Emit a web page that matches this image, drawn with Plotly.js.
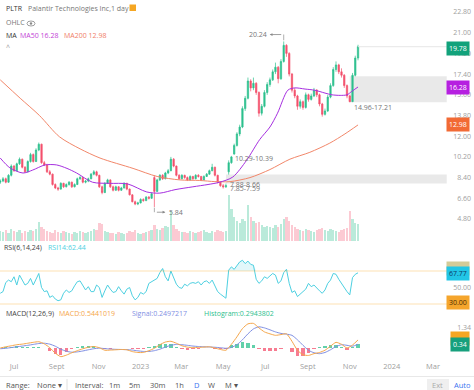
<!DOCTYPE html>
<html><head><meta charset="utf-8">
<script src="https://cdn.plot.ly/plotly-3.0.1.min.js"></script>
<style>html,body{margin:0;padding:0;background:#fff}#c{width:474px;height:390px}</style>
</head><body><div id="c"></div>
<script>
// ---------- data (one candle per ~4 calendar days) ----------
const startDate = '2022-06-11';
const stepDays = 4;
const open = [8.00,8.10,8.30,8.00,8.60,9.40,9.00,9.60,10.00,9.30,
8.90,9.80,10.40,9.80,10.80,11.30,9.70,9.50,8.90,8.70,
7.80,7.50,7.40,7.90,7.60,7.80,8.00,7.60,7.80,8.30,
8.40,8.00,8.10,8.30,8.70,8.90,8.60,7.60,7.10,7.90,
8.20,7.60,7.30,7.60,7.30,7.50,7.90,7.40,6.90,6.30,
6.10,6.20,6.50,6.40,6.70,6.60,8.40,7.20,8.20,8.60,
8.30,8.80,9.00,10.00,9.40,8.60,8.30,8.60,8.40,8.20,
8.50,8.30,8.60,8.50,8.20,8.50,8.70,9.00,9.30,8.60,
8.00,7.70,7.60,8.90,9.70,10.45,11.20,12.20,12.80,14.40,
15.30,16.80,16.20,16.60,15.80,14.00,14.60,15.80,16.50,16.90,
17.60,18.00,17.00,18.50,19.90,19.20,17.40,16.00,15.50,14.60,
15.00,14.50,15.60,15.20,15.50,16.00,15.60,14.80,13.90,14.20,
15.40,16.40,17.80,18.20,17.60,17.30,16.40,15.50,15.00,17.30,18.80];
const high = [8.25,8.45,8.40,8.70,9.55,9.50,9.70,10.15,10.05,9.40,
9.90,10.55,10.50,10.95,11.45,11.35,9.85,9.60,9.05,8.75,
7.90,7.60,8.00,7.95,7.90,8.10,8.05,7.90,8.40,8.55,
8.45,8.20,8.40,8.80,9.05,9.00,8.65,7.70,8.00,8.30,
8.25,7.70,7.70,7.65,7.60,8.00,7.95,7.45,6.95,6.40,
6.30,6.60,6.60,6.80,6.80,7.10,8.60,8.30,8.70,8.70,
8.90,9.15,10.20,10.10,9.45,8.70,8.70,8.65,8.50,8.60,
8.55,8.70,8.70,8.55,8.60,8.80,9.10,9.60,9.35,8.65,
8.05,7.85,7.88,9.90,10.29,11.35,12.35,13.00,14.60,15.50,
17.10,16.95,17.10,16.70,15.90,14.80,16.00,16.70,17.10,17.80,
18.40,18.10,18.70,20.24,20.00,19.30,17.50,16.20,15.60,15.20,
15.10,15.80,15.70,15.70,16.20,16.10,15.70,14.90,14.40,15.60,
16.60,18.00,18.50,18.30,17.90,17.40,16.50,15.60,17.50,19.00,19.95];
const low = [7.85,8.00,7.90,7.95,8.50,8.90,8.95,9.50,9.20,8.80,
8.85,9.70,9.70,9.75,10.70,9.60,9.40,8.80,8.60,7.70,
7.40,7.25,7.35,7.50,7.55,7.70,7.50,7.55,7.75,8.20,
7.90,7.90,8.00,8.25,8.60,8.50,7.50,6.95,7.05,7.85,
7.50,7.20,7.25,7.20,7.25,7.45,7.30,6.85,6.25,6.00,
6.00,6.15,6.30,6.35,6.50,6.55,5.84,7.15,8.10,8.20,
8.25,8.70,8.95,9.30,8.50,8.20,8.25,8.30,8.10,8.15,
8.20,8.25,8.40,8.10,8.15,8.45,8.65,8.95,8.50,7.90,
7.60,7.45,7.50,8.66,9.60,10.39,11.10,12.00,12.70,14.20,
15.20,15.90,16.00,15.60,13.70,13.80,14.50,15.60,16.30,16.80,
17.40,16.60,16.90,18.40,18.90,17.20,15.80,15.30,14.30,14.40,
14.30,14.40,15.00,15.10,15.40,15.40,14.60,13.70,13.80,14.10,
15.30,16.30,17.60,17.40,17.10,16.20,15.30,14.96,15.00,17.20,18.60];
const close = [8.10,8.30,8.00,8.60,9.40,9.00,9.60,10.00,9.30,8.90,
9.80,10.40,9.80,10.80,11.30,9.70,9.50,8.90,8.70,7.80,
7.50,7.40,7.90,7.60,7.80,8.00,7.60,7.80,8.30,8.40,
8.00,8.10,8.30,8.70,8.90,8.60,7.60,7.10,7.90,8.20,
7.60,7.30,7.60,7.30,7.50,7.90,7.40,6.90,6.30,6.10,
6.20,6.50,6.40,6.70,6.60,7.00,7.20,8.20,8.60,8.30,
8.80,9.00,10.00,9.40,8.60,8.30,8.60,8.40,8.20,8.50,
8.30,8.60,8.50,8.20,8.50,8.70,9.00,9.30,8.60,8.00,
7.70,7.60,7.70,9.70,10.20,11.20,12.20,12.80,14.40,15.30,
16.80,16.20,16.60,15.80,14.00,14.60,15.80,16.50,16.90,17.60,
18.00,17.00,18.50,19.90,19.20,17.40,16.00,15.50,14.60,15.00,
14.50,15.60,15.20,15.50,16.00,15.60,14.80,13.90,14.20,15.40,
16.40,17.80,18.20,17.60,17.30,16.40,15.50,15.00,17.30,18.80,19.78];
const volume = [50,45,55,40,60,50,45,55,40,50,
45,55,50,60,95,70,60,50,45,40,
55,45,40,50,45,40,35,45,40,50,
45,40,45,50,60,55,90,85,50,45,
40,40,35,45,40,35,40,50,45,55,
40,35,40,45,50,55,80,60,55,65,
75,70,150,80,60,50,45,45,40,50,
45,40,45,50,55,45,40,50,45,55,
50,45,50,230,160,120,100,90,110,100,
180,120,100,90,95,80,70,75,70,65,
80,70,85,110,120,100,80,70,60,55,
50,60,55,50,45,55,60,65,55,50,
60,55,50,45,55,60,65,150,110,90,85];
const ma50Dates = ['2022-06-11','2022-06-25','2022-07-14','2022-07-28','2022-08-15','2022-09-01','2022-09-16','2022-09-30','2022-10-23','2022-11-17','2022-12-13','2023-01-10','2023-01-29','2023-02-20','2023-03-18','2023-04-09','2023-04-26','2023-05-15','2023-06-04','2023-06-23','2023-07-08','2023-07-19','2023-08-03','2023-08-13','2023-08-28','2023-09-11','2023-09-26','2023-10-06','2023-10-18','2023-10-28','2023-11-04','2023-11-13'];
const ma50 = [10.10,9.25,8.80,9.05,9.50,9.50,9.20,8.80,8.00,7.90,7.85,7.15,7.05,7.35,7.60,7.80,8.00,8.45,9.90,11.70,12.80,14.00,16.00,16.20,16.10,16.00,15.75,15.60,15.55,15.60,15.90,16.28];
const ma200Dates = ['2022-06-11','2022-07-10','2022-08-07','2022-09-05','2022-10-05','2022-11-03','2022-12-21','2023-01-25','2023-02-27','2023-03-28','2023-04-19','2023-05-11','2023-06-09','2023-07-08','2023-08-06','2023-09-04','2023-10-03','2023-10-25','2023-11-13'];
const ma200 = [16.90,15.30,13.80,11.95,10.90,10.10,9.20,8.50,8.20,8.15,8.05,8.05,8.40,9.10,10.00,10.60,11.40,12.20,12.98];
const rsi = [43,45,56,59,57,63,53,65,59,53,55,61,53,60,67,50,45,46,38,40,
36,34,35,43,47,44,46,52,57,58,52,47,51,45,45,53,50,38,46,53,
48,44,45,51,46,42,48,50,40,35,38,44,42,45,55,57,58,61,68,73,
63,58,70,62,54,50,49,54,52,55,56,55,57,53,57,58,55,59,52,45,
42,39,37,71,75,72,76,81,83,79,82,78,77,60,55,58,63,61,64,67,
65,55,58,68,72,55,44,46,39,42,45,48,55,51,53,49,46,43,47,55,
59,67,66,60,55,49,45,41,62,66,67.77];
// MACD panel: one value every 2nd candle
const macd = [0.00,0.08,0.15,0.22,0.26,0.32,0.38,0.42,0.28,0.02,-0.35,-0.58,-0.48,-0.32,-0.18,-0.05,0.05,0.10,0.02,-0.15,-0.14,-0.12,-0.10,-0.12,-0.24,-0.30,-0.30,-0.18,-0.02,0.22,0.40,0.45,0.32,0.15,0.06,0.02,0.04,0.06,0.08,0.00,-0.10,-0.15,0.25,0.75,1.30,1.62,1.65,1.35,1.08,0.95,0.85,0.90,0.95,0.45,-0.15,-0.45,-0.50,-0.38,-0.30,-0.15,0.12,0.38,0.25,0.00,0.20,0.54];
const signal = [-0.05,-0.02,0.03,0.08,0.13,0.18,0.24,0.30,0.32,0.26,0.12,-0.08,-0.22,-0.28,-0.26,-0.20,-0.12,-0.05,-0.01,-0.04,-0.07,-0.09,-0.10,-0.11,-0.14,-0.19,-0.23,-0.23,-0.18,-0.08,0.06,0.18,0.24,0.22,0.18,0.13,0.10,0.08,0.07,0.05,0.02,-0.02,0.04,0.22,0.55,0.95,1.28,1.42,1.35,1.22,1.08,0.98,0.93,0.85,0.55,0.18,-0.15,-0.32,-0.38,-0.30,-0.12,0.10,0.22,0.18,0.12,0.25];
const hist = [0.03,0.08,0.10,0.12,0.10,0.10,0.10,0.09,-0.03,-0.20,-0.40,-0.45,-0.25,-0.05,0.06,0.12,0.14,0.12,0.03,-0.10,-0.06,-0.03,0.00,-0.02,-0.08,-0.10,-0.06,0.04,0.14,0.25,0.30,0.26,0.06,-0.08,-0.12,-0.10,-0.06,-0.02,0.01,-0.04,-0.10,-0.10,0.18,0.30,0.38,0.36,0.20,-0.06,-0.20,-0.22,-0.18,-0.06,0.02,-0.30,-0.55,-0.55,-0.35,-0.06,0.06,0.12,0.20,0.22,0.04,-0.15,0.06,0.29];
const priceTicks = [4.8,6.6,8.4,10.2,12.0,13.8,15.6,17.4,19.2,21.0,22.8];
const monthTicks = ['2022-07-01','2022-09-01','2022-11-01','2023-01-01','2023-03-01','2023-05-01','2023-07-01','2023-09-01','2023-11-01','2024-01-01','2024-03-01'];
const monthLabels = ['Jul','Sept','Nov','2023','Mar','May','Jul','Sept','Nov','2024','Mar'];
const lastPrice = 19.78, lastMA50 = 16.28, lastMA200 = 12.98;
const gapBoxes = [{lo:14.96, hi:17.21, at:127}, {lo:7.88, hi:8.66, at:82}];
const rsiUpper = 70, rsiLower = 30;

// ---------- build ----------
const DAY = 86400000;
const t0 = Date.parse(startDate + 'T00:00:00Z');
const dates = close.map((_, i) => new Date(t0 + i * stepDays * DAY).toISOString().slice(0, 10));
const mDates = macd.map((_, j) => dates[2 * j]);
const UP = '#2DC08E', DN = '#F4506C';
const W = 474, H = 390;
const px = x => x / W, py = y => 1 - y / H;
const FONT = 'Open Sans, Noto Sans, sans-serif';

const traces = [
  {type: 'bar', x: dates, y: volume, xaxis: 'x', yaxis: 'y2', width: stepDays * DAY * 0.85,
   marker: {color: close.map((c, i) => c >= open[i] ? 'rgba(45,192,142,0.33)' : 'rgba(244,80,108,0.30)'), line: {width: 0}},
   hoverinfo: 'skip'},
  {type: 'candlestick', x: dates, open: open, high: high, low: low, close: close, xaxis: 'x', yaxis: 'y',
   increasing: {line: {color: UP, width: 0.7}, fillcolor: UP},
   decreasing: {line: {color: DN, width: 0.7}, fillcolor: DN}, whiskerwidth: 0, hoverinfo: 'skip'},
  {type: 'scatter', mode: 'lines', x: ma200Dates, y: ma200, xaxis: 'x', yaxis: 'y',
   line: {color: '#F2876A', width: 1, shape: 'spline', smoothing: 0.8}, hoverinfo: 'skip'},
  {type: 'scatter', mode: 'lines', x: ma50Dates, y: ma50, xaxis: 'x', yaxis: 'y',
   line: {color: '#A62FE0', width: 1, shape: 'spline', smoothing: 0.8}, hoverinfo: 'skip'},
  // light fill where RSI is above the upper level
  {type: 'scatter', mode: 'lines', x: dates, y: rsi.map(() => rsiUpper), xaxis: 'x', yaxis: 'y3',
   line: {width: 0, color: 'rgba(0,0,0,0)'}, hoverinfo: 'skip'},
  {type: 'scatter', mode: 'lines', x: dates, y: rsi.map(v => Math.max(v, rsiUpper)), xaxis: 'x', yaxis: 'y3',
   line: {width: 0, color: 'rgba(0,0,0,0)'}, fill: 'tonexty', fillcolor: 'rgba(77,208,225,0.16)', hoverinfo: 'skip'},
  {type: 'scatter', mode: 'lines', x: dates, y: rsi, xaxis: 'x', yaxis: 'y3',
   line: {color: '#4DD0E1', width: 1}, hoverinfo: 'skip'},
  {type: 'bar', x: mDates, y: hist, xaxis: 'x', yaxis: 'y4', width: 2 * stepDays * DAY * 0.6,
   marker: {color: hist.map(v => v >= 0 ? 'rgba(45,192,142,0.75)' : 'rgba(244,80,108,0.75)'), line: {width: 0}},
   hoverinfo: 'skip'},
  {type: 'scatter', mode: 'lines', x: mDates, y: signal, xaxis: 'x', yaxis: 'y4',
   line: {color: '#7F8FE3', width: 1, shape: 'spline', smoothing: 0.6}, hoverinfo: 'skip'},
  {type: 'scatter', mode: 'lines', x: mDates, y: macd, xaxis: 'x', yaxis: 'y4',
   line: {color: '#F5A64A', width: 1, shape: 'spline', smoothing: 0.6}, hoverinfo: 'skip'}
];

const axY = (extra) => Object.assign({side: 'right', anchor: 'x', ticklabelposition: 'inside', showgrid: false,
  zeroline: false, showline: false, ticks: '', fixedrange: true,
  tickfont: {size: 7, color: '#A0A0A0', family: FONT}}, extra);

const bandEnd = '2024-03-21';
const shapes = [];
gapBoxes.forEach(b => shapes.push({type: 'rect', xref: 'x', yref: 'y', x0: dates[b.at], x1: bandEnd, y0: b.lo, y1: b.hi,
  fillcolor: 'rgba(0,0,0,0.085)', line: {width: 0}, layer: 'below'}));
shapes.push({type: 'line', xref: 'x', yref: 'y', x0: dates[dates.length - 1], x1: bandEnd, y0: lastPrice, y1: lastPrice,
  line: {color: '#E6E6E6', width: 1}});
[rsiUpper, rsiLower].forEach(v => shapes.push({type: 'line', xref: 'paper', yref: 'y3', x0: 0, x1: px(447), y0: v, y1: v,
  line: {color: 'rgba(245,166,35,0.35)', width: 1}}));
shapes.push({type: 'line', xref: 'paper', yref: 'paper', x0: 0, x1: 1, y0: py(376.5), y1: py(376.5), line: {color: '#E8E8E8', width: 1}});
shapes.push({type: 'line', xref: 'paper', yref: 'paper', x0: px(67), x1: px(67), y0: py(379), y1: py(390), line: {color: '#E0E0E0', width: 1}});
shapes.push({type: 'rect', xref: 'paper', yref: 'paper', x0: px(427), x1: px(449), y0: py(390), y1: py(379), fillcolor: '#EFEFEF', line: {width: 0}});
shapes.push({type: 'rect', xref: 'paper', yref: 'paper', x0: px(129.5), x1: px(136), y0: py(11), y1: py(4.5), fillcolor: '#F5A623', line: {width: 0}});
shapes.push({type: 'circle', xref: 'paper', yref: 'paper', x0: px(27), x1: px(35), y0: py(26), y1: py(21), line: {color: '#888', width: 0.8}});
shapes.push({type: 'circle', xref: 'paper', yref: 'paper', x0: px(29.8), x1: px(32.2), y0: py(24.7), y1: py(22.3), fillcolor: '#888', line: {width: 0}});

// high / low markers
let iMax = 0, iMin = 0;
high.forEach((v, i) => { if (v > high[iMax]) iMax = i; });
low.forEach((v, i) => { if (v < low[iMin]) iMin = i; });
shapes.push({type: 'line', xref: 'x', yref: 'y', x0: dates[iMax], x1: dates[iMax], y0: high[iMax] + 0.1, y1: high[iMax] + 0.6, line: {color: '#999', width: 0.8}});
shapes.push({type: 'line', xref: 'x', yref: 'y', x0: dates[iMin], x1: dates[iMin], y0: low[iMin] - 0.05, y1: low[iMin] - 0.45, line: {color: '#999', width: 0.8}});

const ann = [];
const T = (x, y, text, color, size, anchor) => ann.push({xref: 'paper', yref: 'paper', x: px(x), y: py(y), text: text,
  showarrow: false, xanchor: anchor || 'left', yanchor: 'middle', font: {size: size || 7, color: color, family: FONT}});
T(4, 8, 'PLTR', '#333');
T(26, 8, 'Palantir Technologies Inc,1 day', '#777');
T(4, 22.5, 'OHLC', '#777');
T(4, 35, 'MA', '#333');
T(18, 35, 'MA50 ' + lastMA50.toFixed(2), '#C23FD6');
T(62, 35, 'MA200 ' + lastMA200.toFixed(2), '#F07E68');
T(4, 47, '^', '#999', 7);
T(2, 248, 'RSI(6,14,24)', '#444');
T(46, 248, 'RSI14:62.44', '#4DD0E1');
T(4, 313, 'MACD(12,26,9)', '#444');
T(57, 313, 'MACD:0.5441019', '#F5A64A');
T(130, 313, 'Signal:0.2497217', '#7F8FE3');
T(202, 313, 'Histogram:0.2943802', '#2DC08E');
T(4, 385, 'Range:', '#555', 7.5);
T(35, 385, 'None ▾', '#555', 7.5);
T(73, 385, 'Interval:', '#555', 7.5);
T(107, 385, '1m', '#555', 7.5);
T(127, 385, '5m', '#555', 7.5);
T(148, 385, '30m', '#555', 7.5);
T(173, 385, '1h', '#555', 7.5);
T(192, 385, 'D', '#3B73F0', 7.5);
T(206, 385, 'W', '#555', 7.5);
T(223, 385, 'M ▾', '#555', 7.5);
T(430, 385, 'Ext', '#AAA', 7.5);
T(452, 385, 'Auto', '#3B73F0', 7.5);

// gap labels
const L = (i, y, text, ys) => ann.push({xref: 'x', yref: 'y', x: dates[i], y: y, text: text, showarrow: false,
  xanchor: 'left', yanchor: 'middle', xshift: 2, yshift: ys, font: {size: 7, color: '#777', family: FONT}});
L(84, 10.29, '10.29-10.39', -3);
L(82, 7.88, '7.88-8.66', -1);
L(82, 7.59, '7.85-7.59', -2);
L(127, 14.96, '14.96-17.21', -5);

// high/low arrows
ann.push({xref: 'x', yref: 'y', x: dates[iMax], y: high[iMax] + 0.6, xshift: -14, ax: 14, ay: 0, text: ' ', showarrow: true,
  arrowhead: 2, arrowsize: 0.7, arrowwidth: 0.8, arrowcolor: '#888'});
ann.push({xref: 'x', yref: 'y', x: dates[iMax], y: high[iMax] + 0.6, xshift: -15, text: high[iMax].toFixed(2), showarrow: false,
  xanchor: 'right', yanchor: 'middle', font: {size: 7, color: '#777', family: FONT}});
ann.push({xref: 'x', yref: 'y', x: dates[iMin], y: low[iMin] - 0.45, xshift: 11, ax: -11, ay: 0, text: ' ', showarrow: true,
  arrowhead: 2, arrowsize: 0.7, arrowwidth: 0.8, arrowcolor: '#888'});
ann.push({xref: 'x', yref: 'y', x: dates[iMin], y: low[iMin] - 0.45, xshift: 13, text: low[iMin].toFixed(2), showarrow: false,
  xanchor: 'left', yanchor: 'middle', font: {size: 7, color: '#777', family: FONT}});

// right-side badges
const B = (yref, y, text, bg, fg, ys) => ann.push({xref: 'paper', yref: yref, x: 1, y: y, xshift: -4, yshift: ys || 0,
  xanchor: 'right', yanchor: 'middle', text: text, showarrow: false, bgcolor: bg, borderpad: 2,
  font: {size: 7, color: fg, family: FONT}});
B('y', lastPrice, lastPrice.toFixed(2), '#12A27B', '#fff', -2);
B('y', lastMA50, lastMA50.toFixed(2), '#B620E0', '#fff', -1);
B('y', lastMA200, lastMA200.toFixed(2), '#F26A35', '#fff', 0);
B('y3', rsiUpper, rsiUpper.toFixed(2), '#D3CB98', '#D3CB98', 3);
B('y3', rsi[rsi.length - 1], rsi[rsi.length - 1].toFixed(2), '#22C6E6', '#0D3B66', -1);
B('y3', rsiLower, rsiLower.toFixed(2), '#F5A52C', '#4A2C00', 2);
B('y4', macd[macd.length - 1], '0.54', '#F5A623', '#F5A623', 1);
B('y4', signal[signal.length - 1], '0.34', '#17A07D', '#fff', 0);

const layout = {
  width: W, height: H, margin: {l: 0, r: 0, t: 0, b: 0}, paper_bgcolor: '#fff', plot_bgcolor: 'rgba(0,0,0,0)',
  showlegend: false, font: {family: FONT, size: 7, color: '#999'}, bargap: 0, dragmode: false,
  xaxis: {type: 'date', domain: [0, 1], anchor: 'y4', range: ['2022-06-10 15:00', '2024-04-29 14:00'],
    tickvals: monthTicks, ticktext: monthLabels, ticks: '', showgrid: false, zeroline: false, showline: false,
    rangeslider: {visible: false}, fixedrange: true, tickfont: {size: 7.5, color: '#A0A0A0', family: FONT}},
  yaxis: axY({domain: [py(241), 1], range: [2.887, 23.843], tickvals: priceTicks, ticktext: priceTicks.map(v => v.toFixed(2))}),
  yaxis2: {overlaying: 'y', range: [0, 1200], visible: false, fixedrange: true},
  yaxis3: axY({domain: [py(312), py(254)], range: [20.3, 90.6], tickvals: [50], ticktext: ['50.00']}),
  yaxis4: axY({domain: [py(360), py(318)], range: [-0.805, 2.013], tickvals: [1.34], ticktext: ['1.34']}),
  shapes: shapes, annotations: ann
};
Plotly.newPlot('c', traces, layout, {staticPlot: true, displayModeBar: false});
</script></body></html>
